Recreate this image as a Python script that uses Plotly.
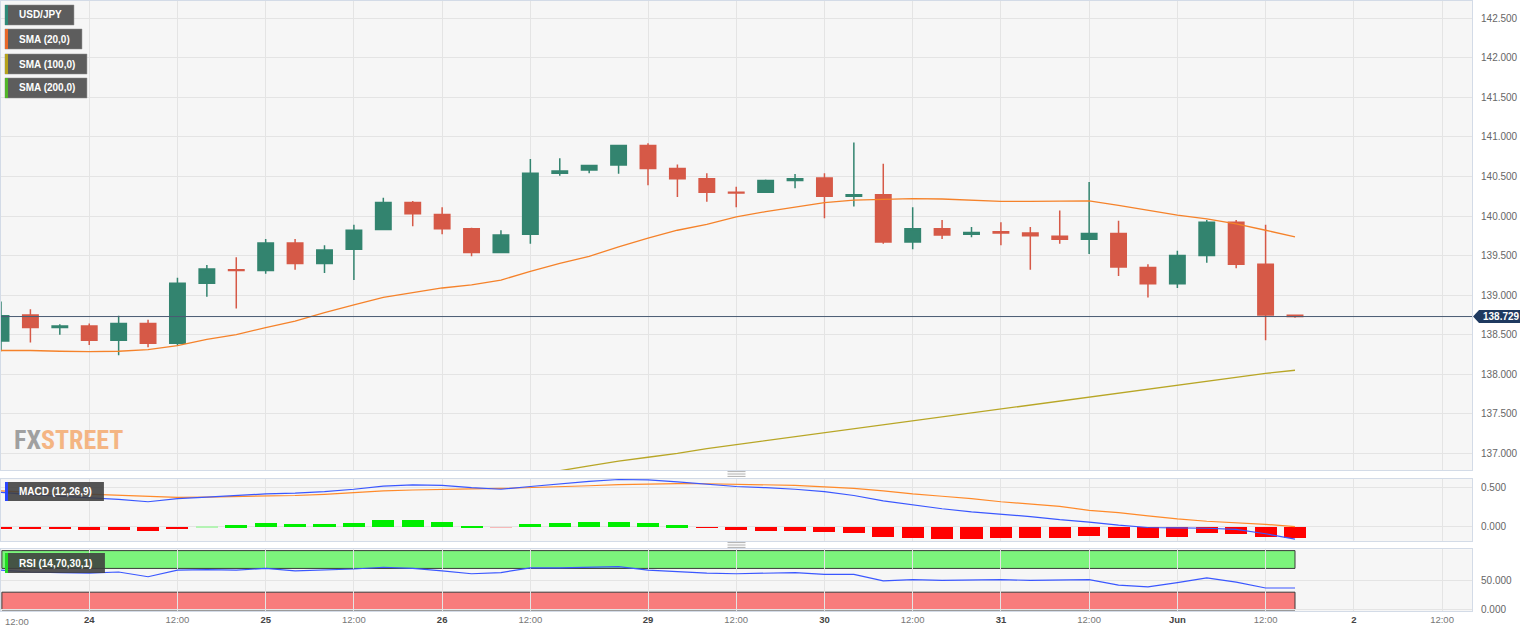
import plotly.graph_objects as go

W, H = 1536, 633
H_RENDER = 638

# ---------------- data ----------------
idx = list(range(45))
open_ = [138.42, 138.75, 138.59, 138.61, 138.43, 138.64, 138.39, 139.15, 139.32, 139.31,
         139.66, 139.40, 139.58, 139.83, 140.17, 140.02, 139.84, 139.54, 139.77, 140.54,
         140.58, 140.645, 140.89, 140.60, 140.47, 140.30, 140.30, 140.45, 140.48, 140.25,
         140.27, 139.67, 139.84, 139.77, 139.80, 139.785, 139.745, 139.705, 139.78, 139.35,
         139.145, 139.50, 139.92, 139.39, 138.745]
high = [138.92, 138.82, 138.63, 138.64, 138.74, 138.69, 139.22, 139.38, 139.48, 139.71,
        139.71, 139.63, 139.89, 140.23, 140.19, 140.11, 139.85, 139.82, 140.72, 140.73,
        140.64, 140.90, 140.92, 140.65, 140.54, 140.37, 140.46, 140.53, 140.54, 140.93,
        140.66, 140.11, 139.95, 139.86, 139.92, 139.86, 140.07, 140.43, 139.94, 139.39,
        139.56, 139.95, 139.95, 139.89, 138.75]
low = [138.29, 138.40, 138.50, 138.37, 138.24, 138.34, 138.36, 138.98, 138.83, 139.27,
       139.32, 139.28, 139.19, 139.82, 139.87, 139.77, 139.49, 139.53, 139.65, 140.51,
       140.54, 140.535, 140.39, 140.24, 140.18, 140.11, 140.29, 140.35, 139.97, 140.12,
       139.65, 139.58, 139.71, 139.73, 139.63, 139.32, 139.65, 139.52, 139.24, 138.97,
       139.09, 139.41, 139.34, 138.43, 138.715]
close = [138.74, 138.59, 138.61, 138.43, 138.64, 138.39, 139.15, 139.33, 139.31, 139.66,
         139.40, 139.57, 139.82, 140.17, 140.03, 139.84, 139.54, 139.76, 140.54, 140.57,
         140.64, 140.89, 140.60, 140.47, 140.30, 140.29, 140.45, 140.47, 140.25, 140.27,
         139.67, 139.84, 139.76, 139.79, 139.785, 139.75, 139.705, 139.78, 139.355, 139.145,
         139.50, 139.92, 139.39, 138.75, 138.729]
sma20 = [138.30, 138.30, 138.29, 138.285, 138.29, 138.31, 138.36, 138.44, 138.50, 138.59,
         138.67, 138.78, 138.875, 138.97, 139.03, 139.09, 139.13, 139.19, 139.30, 139.40,
         139.49, 139.61, 139.72, 139.82, 139.895, 139.99, 140.055, 140.11, 140.17, 140.20,
         140.21, 140.22, 140.215, 140.20, 140.185, 140.185, 140.19, 140.19, 140.135, 140.07,
         140.01, 139.965, 139.90, 139.82, 139.735]
sma100_idx = list(range(17, 45))
sma100 = [136.68, 136.73, 136.78, 136.84, 136.90, 136.95, 137.00, 137.06, 137.11, 137.16,
          137.21, 137.26, 137.31, 137.36, 137.41, 137.46, 137.51, 137.56, 137.61, 137.66,
          137.71, 137.76, 137.81, 137.86, 137.91, 137.96, 138.01, 138.05]
macd = [0.44, 0.41, 0.39, 0.37, 0.35, 0.32, 0.36, 0.38, 0.40, 0.42,
        0.43, 0.45, 0.48, 0.52, 0.535, 0.53, 0.50, 0.48, 0.515, 0.55,
        0.58, 0.605, 0.60, 0.575, 0.545, 0.515, 0.50, 0.48, 0.45, 0.40,
        0.33, 0.28, 0.23, 0.19, 0.16, 0.13, 0.09, 0.06, 0.02, -0.01,
        -0.015, -0.02, -0.035, -0.09, -0.16]
signal = [0.46, 0.44, 0.43, 0.415, 0.40, 0.385, 0.375, 0.38, 0.385, 0.395,
          0.40, 0.415, 0.435, 0.46, 0.47, 0.48, 0.485, 0.49, 0.50, 0.51,
          0.525, 0.54, 0.55, 0.552, 0.55, 0.545, 0.54, 0.53, 0.51, 0.49,
          0.46, 0.42, 0.39, 0.36, 0.32, 0.29, 0.26, 0.21, 0.18, 0.14,
          0.10, 0.07, 0.05, 0.03, 0.00]
hist = [-0.03, -0.03, -0.03, -0.04, -0.04, -0.055, -0.02, 0.005, 0.02, 0.05,
        0.045, 0.04, 0.055, 0.085, 0.085, 0.064, 0.015, -0.005, 0.035, 0.05,
        0.06, 0.07, 0.055, 0.025, -0.01, -0.035, -0.045, -0.05, -0.065, -0.08,
        -0.13, -0.14, -0.15, -0.15, -0.14, -0.14, -0.135, -0.12, -0.135, -0.145,
        -0.13, -0.08, -0.085, -0.13, -0.14]
rsi = [67, 64, 63, 62, 64, 56, 67, 68, 67, 70,
       66, 67, 69, 72, 70, 66, 61, 63, 71, 71,
       72, 73, 67, 64, 62, 61, 62, 63, 60, 60,
       49, 51, 50, 51, 51, 50, 50, 51, 42, 39,
       46, 54, 47, 37, 37]
tick_pos = [3, 6, 9, 12, 15, 18, 22, 25, 28, 31, 34, 37, 40, 43, 46, 49]
tick_lab = ["24", "12:00", "25", "12:00", "26", "12:00", "29", "12:00", "30", "12:00",
            "31", "12:00", "Jun", "12:00", "2", "12:00"]
price_ticks = [137.0, 137.5, 138.0, 138.5, 139.0, 139.5, 140.0, 140.5, 141.0, 141.5, 142.0, 142.5]
last_price = 138.729
legend_names = ["USD/JPY", "SMA (20,0)", "SMA (100,0)", "SMA (200,0)"]

# ---------------- style ----------------
GREEN = "#33846f"
RED = "#d65947"
GRID = "#e4e4e4"
FRAME = "#d3dbe7"
BG = "#f6f6f6"
FONT = "Arial, Liberation Sans, sans-serif"


def px(x):
    return x / W


def py(y):
    return (H - y) / H


XMAX = 50.02
xdom = [0, 1472 / W]

fig = go.Figure()
fig.add_trace(go.Candlestick(
    x=idx, open=open_, high=high, low=low, close=close,
    increasing=dict(line=dict(color=GREEN, width=1.5), fillcolor=GREEN),
    decreasing=dict(line=dict(color=RED, width=1.5), fillcolor=RED),
    whiskerwidth=0, xaxis="x", yaxis="y", hoverinfo="skip"))
fig.add_trace(go.Scatter(x=idx, y=sma20, mode="lines", line=dict(color="#f5822a", width=1.3),
                         xaxis="x", yaxis="y", hoverinfo="skip"))
fig.add_trace(go.Scatter(x=sma100_idx, y=sma100, mode="lines", line=dict(color="#b8a626", width=1.3),
                         xaxis="x", yaxis="y", hoverinfo="skip"))

bar_colors = []
for v in hist:
    if v >= 0:
        bar_colors.append("#00ee00" if v > 0.008 else "#b4f3b4")
    else:
        bar_colors.append("#ff0000" if v < -0.008 else "#f7b9b9")
fig.add_trace(go.Bar(x=idx, y=hist, marker=dict(color=bar_colors, line=dict(width=0)), width=0.75,
                     xaxis="x2", yaxis="y2", hoverinfo="skip"))
fig.add_trace(go.Scatter(x=idx, y=signal, mode="lines", line=dict(color="#ff8a2a", width=1.2),
                         xaxis="x2", yaxis="y2", hoverinfo="skip"))
fig.add_trace(go.Scatter(x=idx, y=macd, mode="lines", line=dict(color="#3a57ff", width=1.2),
                         xaxis="x2", yaxis="y2", hoverinfo="skip"))
fig.add_trace(go.Scatter(x=idx, y=rsi, mode="lines", line=dict(color="#3a57ff", width=1.2),
                         xaxis="x3", yaxis="y3", hoverinfo="skip"))

axis_common = dict(showgrid=True, gridcolor=GRID, gridwidth=1, zeroline=False,
                   showline=True, mirror=True, linecolor=FRAME, linewidth=1, ticks="")
xcommon = dict(axis_common, domain=xdom, range=[0, XMAX], tickmode="array", tickvals=tick_pos)

ticktext = []
for t in tick_lab:
    if t == "12:00":
        ticktext.append("<span style='color:#777'>12:00</span>")
    else:
        ticktext.append("<b>%s</b>" % t)

fig.update_layout(
    width=W, height=H_RENDER,
    margin=dict(l=0, r=0, t=0, b=0),
    paper_bgcolor="white", plot_bgcolor=BG,
    showlegend=False, bargap=0,
    boxgap=0.25,
    font=dict(family=FONT, size=10, color="#555"),
    xaxis=dict(xcommon, anchor="y", showticklabels=False, rangeslider=dict(visible=False)),
    xaxis2=dict(xcommon, anchor="y2", matches="x", showticklabels=False),
    xaxis3=dict(xcommon, anchor="y3", matches="x", showticklabels=True, ticktext=ticktext,
                tickfont=dict(size=9.5, color="#444", family=FONT)),
    yaxis=dict(axis_common, domain=[py(469), 1.0], range=[136.789, 142.718], side="right",
               anchor="x", tickvals=price_ticks, tickformat=".3f", ticklabelstandoff=6,
               tickfont=dict(size=10, color="#666")),
    yaxis2=dict(axis_common, domain=[py(540), py(477.7)], range=[-0.183, 0.615], side="right",
                anchor="x2", tickvals=[0, 0.5], tickformat=".3f", ticklabelstandoff=6,
                tickfont=dict(size=10, color="#666")),
    yaxis3=dict(axis_common, domain=[py(610), py(548.3)], range=[-1.7, 102.2], side="right",
                anchor="x3", tickvals=[0, 50], tickformat=".3f", ticklabelstandoff=6,
                tickfont=dict(size=10, color="#666")),
)

shapes = []
# RSI bands
shapes.append(dict(type="rect", xref="x3", yref="y3", x0=0.03, x1=44, y0=70, y1=100,
                   fillcolor="#7cf47c", line=dict(color="#3a3a3a", width=1), layer="below"))
shapes.append(dict(type="rect", xref="x3", yref="y3", x0=0.03, x1=44, y0=0, y1=30,
                   fillcolor="#f87c7c", line=dict(color="#3a3a3a", width=1), layer="below"))
# last price line
shapes.append(dict(type="line", xref="x", yref="y", x0=0, x1=XMAX, y0=last_price, y1=last_price,
                   line=dict(color="#4a5b73", width=1)))
# legend boxes
legend_rows = [(4, 73, 4, 24, "#2f8a78"), (4, 81, 28, 48, "#e8692a"),
               (4, 86, 53, 73, "#b5a21c"), (4, 86, 77, 97, "#52b52a")]
for (x0, x1, y0, y1, c) in legend_rows:
    shapes.append(dict(type="rect", xref="paper", yref="paper", x0=px(x0), x1=px(x1),
                       y0=py(y1), y1=py(y0), fillcolor="#5d5d5d", line=dict(color="#8a8a8a", width=0.5)))
    shapes.append(dict(type="rect", xref="paper", yref="paper", x0=px(x0), x1=px(x0 + 3),
                       y0=py(y1), y1=py(y0), fillcolor=c, line=dict(width=0)))
# indicator label boxes
for (x0, x1, y0, y1, c) in [(4, 103, 481, 500, "#2a45ff"), (4, 104, 552, 572, "#22dd22")]:
    shapes.append(dict(type="rect", xref="paper", yref="paper", x0=px(x0), x1=px(x1),
                       y0=py(y1), y1=py(y0), fillcolor="rgba(62,62,62,0.88)", line=dict(width=0)))
    shapes.append(dict(type="rect", xref="paper", yref="paper", x0=px(x0), x1=px(x0 + 3),
                       y0=py(y1), y1=py(y0), fillcolor=c, line=dict(width=0)))
# grab handles
for yc in (473, 544):
    for dy in (-2.4, 0, 2.4):
        shapes.append(dict(type="line", xref="paper", yref="paper", x0=px(727), x1=px(745),
                           y0=py(yc + dy), y1=py(yc + dy), line=dict(color="#9a9a9a", width=0.8)))
# price tag
tag = "M %f %f L %f %f L %f %f L %f %f L %f %f Z" % (
    px(1473), py(315.5), px(1479), py(309), px(1520), py(309), px(1520), py(322), px(1479), py(322))
shapes.append(dict(type="path", xref="paper", yref="paper", path=tag,
                   fillcolor="#1f3a60", line=dict(width=0)))

annotations = []
for name, (x0, x1, y0, y1, c) in zip(legend_names, legend_rows):
    annotations.append(dict(xref="paper", yref="paper", x=px(16), y=py((y0 + y1) / 2),
                            xanchor="left", yanchor="middle", showarrow=False,
                            text="<b>%s</b>" % name, font=dict(color="white", size=10, family=FONT)))
annotations.append(dict(xref="paper", yref="paper", x=px(16), y=py(490.5), xanchor="left",
                        yanchor="middle", showarrow=False, text="<b>MACD (12,26,9)</b>",
                        font=dict(color="white", size=10, family=FONT)))
annotations.append(dict(xref="paper", yref="paper", x=px(16), y=py(562), xanchor="left",
                        yanchor="middle", showarrow=False, text="<b>RSI (14,70,30,1)</b>",
                        font=dict(color="white", size=10, family=FONT)))
annotations.append(dict(xref="paper", yref="paper", x=px(1481), y=py(315.5), xanchor="left",
                        yanchor="middle", showarrow=False, text="<b>%.3f</b>" % last_price,
                        font=dict(color="white", size=10, family=FONT)))
annotations.append(dict(xref="paper", yref="paper", x=px(2), y=py(620), xanchor="left",
                        yanchor="middle", showarrow=False, text="12:00",
                        font=dict(color="#777", size=9.5, family=FONT)))
annotations.append(dict(xref="paper", yref="paper", x=px(11), y=py(439), xanchor="left",
                        yanchor="middle", showarrow=False,
                        text="<b><span style='color:#a0a0a0'>FX</span><span style='color:#f4b583'>STREET</span></b>",
                        font=dict(size=26, family="Liberation Sans Narrow, Roboto Condensed, Arial Narrow, sans-serif")))

fig.update_layout(shapes=shapes, annotations=annotations)
fig.write_html(
    "out.html",
    config={"displayModeBar": False, "responsive": False},
    post_script=("document.documentElement.style.margin='0px';"
                 "document.documentElement.style.overflow='hidden';"
                 "document.body.style.margin='0px';document.body.style.overflow='hidden';"),
)
